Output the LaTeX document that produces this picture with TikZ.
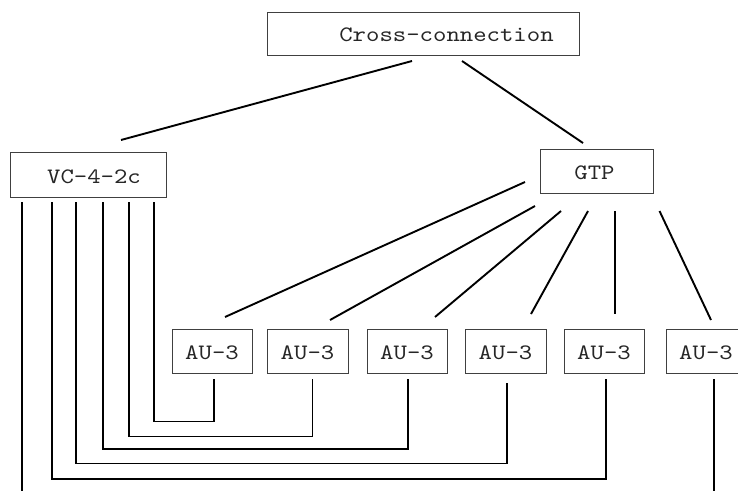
\documentclass[tikz,border=0pt]{standalone}
\usepackage{fontspec}
\newfontfamily\lblfont{lmmono10-regular}[Extension=.otf, FakeStretch=1.16]
\begin{document}
\begin{tikzpicture}[x=1pt,y=-1pt,
  box/.style={draw=black!75, line width=0.9pt, inner sep=0pt},
  lbl/.style={font=\lblfont\fontsize{22}{27}\selectfont, inner sep=0pt, text=black!85},
  diag/.style={line width=1.9pt},
  wire/.style={line width=1.3pt}]
\useasboundingbox (0,0) rectangle (738,490);

% boxes
\node[box, minimum width=312pt, minimum height=43pt] (cc) at (423,33.5) {};
\node[lbl] (cct) at (446.5,35) {Cross-connection};
\node[box, minimum width=156pt, minimum height=45pt] (vc) at (88,174.5) {};
\node[lbl] (vct) at (94,176.5) {VC-4-2c};
\node[box, minimum width=113pt, minimum height=44pt] (gtp) at (596.5,171) {};
\node[lbl] (gtpt) at (594.5,172.7) {GTP};

\foreach \n/\cx/\w in {1/212/80, 2/307.5/81, 3/407/80, 4/505.5/81, 5/604/80, 6/706/80}{
  \node[box, minimum width=\w pt, minimum height=44pt] (au\n) at (\cx,351) {};
  \node[lbl] (au\n t) at (\cx,353) {AU-3};
}

% connector end points
\coordinate (ccA) at (412,61);   \coordinate (vcT) at (121,140);
\coordinate (ccB) at (462,61);   \coordinate (gtpT) at (583,143);
\coordinate (g1) at (525,182);   \coordinate (a1T) at (225,317);
\coordinate (g2) at (535,206);   \coordinate (a2T) at (330,320);
\coordinate (g3) at (561,211);   \coordinate (a3T) at (435,317);
\coordinate (g4) at (588,211);   \coordinate (a4T) at (531,314);
\coordinate (g5) at (615,211);   \coordinate (a5T) at (615,314);
\coordinate (g6) at (659.5,211); \coordinate (a6T) at (711,320);

\coordinate (v1) at (154,202); \coordinate (a1B) at (214,379);
\coordinate (v2) at (129,202); \coordinate (a2B) at (312.5,379);
\coordinate (v3) at (103,202); \coordinate (a3B) at (408,379);
\coordinate (v4) at (76,202);  \coordinate (a4B) at (507,382.5);
\coordinate (v5) at (52,202);  \coordinate (a5B) at (606,379);
\coordinate (v6) at (22,202);  \coordinate (a6B) at (714,379);
\coordinate (v6end) at (22,492); \coordinate (a6end) at (714,492);

% diagonal connectors
\draw[diag] (ccA) -- (vcT);
\draw[diag] (ccB) -- (gtpT);
\foreach \i in {1,...,6}{ \draw[diag] (g\i) -- (a\i T); }

% orthogonal wires
\draw[wire] (v1) |- (214,421.7) -- (a1B);
\draw[wire] (v2) |- (312.5,436.7) -- (a2B);
\draw[wire] (v3) |- (408,449) -- (a3B);
\draw[wire] (v4) |- (507,463.3) -- (a4B);
\draw[wire] (v5) |- (606,479) -- (a5B);
\draw[wire] (v6) -- (v6end);
\draw[wire] (a6B) -- (a6end);
\end{tikzpicture}
\end{document}
